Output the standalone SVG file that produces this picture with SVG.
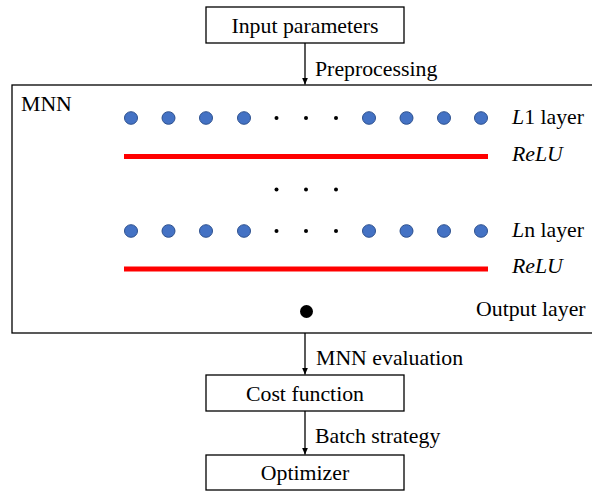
<svg xmlns="http://www.w3.org/2000/svg" width="592" height="491" viewBox="0 0 592 491">
<style>
text{font-family:"Liberation Serif","Times New Roman",serif;font-size:21.8px;fill:#000}
.box{fill:#fff;stroke:#000;stroke-width:1.3}
.n{fill:#4472C4;stroke:#2F528F;stroke-width:1}
.d{fill:#000}
.relu{stroke:#ff0000;stroke-width:5}
.c{stroke:#000;stroke-width:1.3;fill:none}
.i{font-style:italic}
</style>
<defs>
<marker id="a" markerWidth="7" markerHeight="9" refX="8" refY="3.5" orient="auto" markerUnits="userSpaceOnUse" viewBox="0 0 8 7">
<path d="M0,0 L8,3.5 L0,7 Z" fill="#000"/>
</marker>
</defs>

<g id="input">
<rect class="box" x="206" y="7" width="198" height="36"/>
<text x="305" y="33" text-anchor="middle">Input parameters</text>
</g>

<g id="mnn">
<rect x="12" y="85" width="582" height="248" fill="#fff" stroke="#000" stroke-width="1.3"/>
<text x="21" y="111">MNN</text>
</g>

<g id="layer1">
<ellipse class="n" cx="131" cy="118" rx="6.5" ry="6.3"/>
<ellipse class="n" cx="168.5" cy="118" rx="6.5" ry="6.3"/>
<ellipse class="n" cx="206" cy="118" rx="6.5" ry="6.3"/>
<ellipse class="n" cx="244" cy="118" rx="6.5" ry="6.3"/>
<circle class="d" cx="276.5" cy="118" r="2"/>
<circle class="d" cx="306" cy="118" r="2"/>
<circle class="d" cx="336" cy="118" r="2"/>
<ellipse class="n" cx="369" cy="118" rx="6.5" ry="6.3"/>
<ellipse class="n" cx="406.5" cy="118" rx="6.5" ry="6.3"/>
<ellipse class="n" cx="444" cy="118" rx="6.5" ry="6.3"/>
<ellipse class="n" cx="481" cy="118" rx="6.5" ry="6.3"/>
<text x="512" y="124"><tspan class="i">L</tspan>1 layer</text>
</g>

<g id="relu1">
<line class="relu" x1="124" y1="156.5" x2="488" y2="156.5"/>
<text class="i" x="512" y="161">ReLU</text>
</g>

<g id="ellipsis">
<circle class="d" cx="276.5" cy="189.5" r="2"/>
<circle class="d" cx="306" cy="189.5" r="2"/>
<circle class="d" cx="336" cy="189.5" r="2"/>
</g>

<g id="layern">
<ellipse class="n" cx="131" cy="231" rx="6.5" ry="6.3"/>
<ellipse class="n" cx="168.5" cy="231" rx="6.5" ry="6.3"/>
<ellipse class="n" cx="206" cy="231" rx="6.5" ry="6.3"/>
<ellipse class="n" cx="244" cy="231" rx="6.5" ry="6.3"/>
<circle class="d" cx="276.5" cy="231" r="2"/>
<circle class="d" cx="306" cy="231" r="2"/>
<circle class="d" cx="336" cy="231" r="2"/>
<ellipse class="n" cx="369" cy="231" rx="6.5" ry="6.3"/>
<ellipse class="n" cx="406.5" cy="231" rx="6.5" ry="6.3"/>
<ellipse class="n" cx="444" cy="231" rx="6.5" ry="6.3"/>
<ellipse class="n" cx="481" cy="231" rx="6.5" ry="6.3"/>
<text x="512" y="237"><tspan class="i">L</tspan>n layer</text>
</g>

<g id="relun">
<line class="relu" x1="124" y1="269" x2="488" y2="269"/>
<text class="i" x="512" y="273">ReLU</text>
</g>

<g id="output">
<circle cx="306.5" cy="311.5" r="6.5" fill="#000"/>
<text x="476" y="316">Output layer</text>
</g>

<g id="cost">
<rect class="box" x="206" y="375" width="198" height="36"/>
<text x="305" y="401" text-anchor="middle">Cost function</text>
</g>

<g id="optimizer">
<rect class="box" x="206" y="455" width="198" height="35"/>
<text x="305" y="480" text-anchor="middle">Optimizer</text>
</g>

<g id="connectors">
<line class="c" x1="305" y1="43" x2="305" y2="84.5" marker-end="url(#a)"/>
<text x="315" y="76">Preprocessing</text>
<line class="c" x1="305" y1="333" x2="305" y2="374.5" marker-end="url(#a)"/>
<text x="316" y="365">MNN evaluation</text>
<line class="c" x1="305" y1="411" x2="305" y2="454.5" marker-end="url(#a)"/>
<text x="315" y="443">Batch strategy</text>
</g>
</svg>
